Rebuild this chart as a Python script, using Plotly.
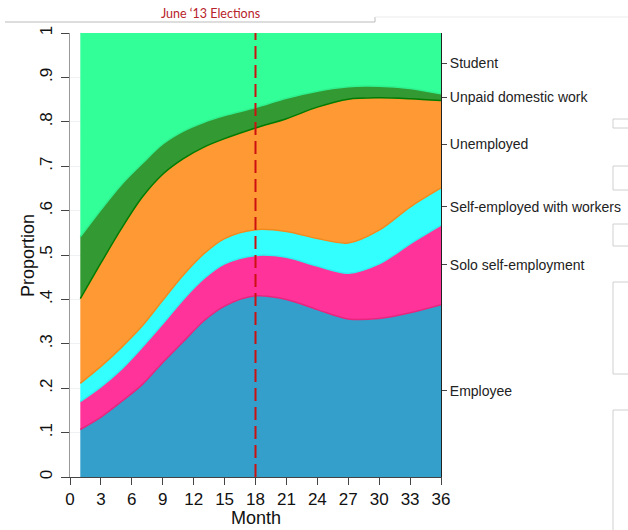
import plotly.graph_objects as go

months = [1, 3, 5, 7, 9, 11, 13, 15, 18, 21, 24, 27, 30, 33, 36]

categories = ["Employee", "Solo self-employment", "Self-employed with workers",
              "Unemployed", "Unpaid domestic work", "Student"]

employee = [0.107, 0.135, 0.170, 0.208, 0.258, 0.305, 0.352, 0.385, 0.408, 0.400, 0.377, 0.356, 0.357, 0.370, 0.388]
solo = [0.063, 0.068, 0.073, 0.084, 0.087, 0.095, 0.095, 0.095, 0.091, 0.095, 0.098, 0.103, 0.123, 0.155, 0.179]
with_workers = [0.041, 0.046, 0.049, 0.048, 0.053, 0.055, 0.056, 0.057, 0.058, 0.058, 0.062, 0.068, 0.076, 0.083, 0.084]
unemployed = [0.191, 0.233, 0.268, 0.290, 0.284, 0.262, 0.240, 0.225, 0.229, 0.254, 0.296, 0.324, 0.298, 0.244, 0.197]
unpaid = [0.139, 0.120, 0.099, 0.076, 0.068, 0.062, 0.056, 0.052, 0.046, 0.046, 0.036, 0.028, 0.026, 0.023, 0.015]
student = [0.459, 0.398, 0.341, 0.294, 0.250, 0.221, 0.201, 0.186, 0.168, 0.147, 0.131, 0.121, 0.120, 0.125, 0.137]

series = [employee, solo, with_workers, unemployed, unpaid, student]

fill_colors = ["#339FCA", "#FF3399", "#33FFFF", "#FF9933", "#339933", "#33FF99"]
line_colors = ["#E8267F", "#2EEFEF", "#F08A1E", "#007A00", "#2EF08C", "rgba(0,0,0,0)"]

x_ticks = list(range(0, 37, 3))
y_ticks = [i / 10 for i in range(11)]
y_ticktext = ["0", ".1", ".2", ".3", ".4", ".5", ".6", ".7", ".8", ".9", "1"]

election_month = 18

fig = go.Figure()
for name, vals, fc, lc in zip(categories, series, fill_colors, line_colors):
    fig.add_trace(go.Scatter(
        x=months, y=vals, name=name, mode="lines", stackgroup="one",
        line=dict(shape="spline", smoothing=0.9, width=1.5, color=lc),
        fillcolor=fc, hoverinfo="skip", showlegend=False,
    ))

# right-side labels at the midpoints of the final-month bands
mids = []
cum = 0.0
for vals in series:
    mids.append(cum + vals[-1] / 2)
    cum += vals[-1]

fig.add_trace(go.Scatter(x=[36], y=[0.5], yaxis="y2", mode="markers",
                         marker=dict(opacity=0), hoverinfo="skip", showlegend=False))

fig.add_shape(type="line", x0=election_month, x1=election_month, y0=0, y1=1.0,
              xref="x", yref="y", line=dict(color="#CC1111", width=2, dash="13px,6px"))

font = "Liberation Sans, Arial, sans-serif"

# screen pixel -> paper coords (plot area spans x 70..441, y 33..477)
def px_x(p):
    return (p - 70) / 371.0

def px_y(p):
    return (477 - p) / 444.0

fig.add_shape(type="line", xref="paper", yref="paper", x0=px_x(5), x1=px_x(375),
              y0=px_y(22), y1=px_y(22), line=dict(color="#BBBBBB", width=1))
fig.add_shape(type="line", xref="paper", yref="paper", x0=px_x(375), x1=px_x(375),
              y0=px_y(17), y1=px_y(22), line=dict(color="#BBBBBB", width=1))
fig.add_shape(type="line", xref="paper", yref="paper", x0=px_x(375), x1=px_x(640),
              y0=px_y(17), y1=px_y(17), line=dict(color="#EBEBEB", width=1))
for top, bot in [(119, 128), (166, 190), (224, 246), (282, 374), (410, 540)]:
    fig.add_shape(type="rect", xref="paper", yref="paper", x0=px_x(613), x1=px_x(650),
                  y0=px_y(bot), y1=px_y(top), line=dict(color="#D0D0D0", width=1))

fig.add_annotation(text="June \u201813 Elections", xref="paper", yref="paper",
                   x=px_x(210), y=px_y(13), xanchor="center", yanchor="middle",
                   showarrow=False,
                   font=dict(family="Lato, Open Sans, sans-serif", size=12.5, color="#B8232A"))
fig.add_annotation(text="Month", xref="paper", yref="paper",
                   x=px_x(256), y=px_y(518), xanchor="center", yanchor="middle",
                   showarrow=False, font=dict(family=font, size=18, color="#111111"))
fig.add_annotation(text="Proportion", xref="paper", yref="paper", textangle=-90,
                   x=px_x(28), y=px_y(256), xanchor="center", yanchor="middle",
                   showarrow=False, font=dict(family=font, size=18, color="#111111"))

fig.update_layout(
    width=628, height=530,
    margin=dict(l=70, r=187, t=33, b=53),
    paper_bgcolor="white", plot_bgcolor="white",
    font=dict(family=font, color="#111111"),
    xaxis=dict(range=[0, 36], tickvals=x_ticks, ticks="outside", ticklen=7,
               tickcolor="#444444", showline=True, linecolor="#444444", showgrid=False,
               zeroline=False, tickfont=dict(size=17, family=font), automargin=False),
    yaxis=dict(range=[0, 1], tickvals=y_ticks, ticktext=y_ticktext, ticks="outside",
               ticklen=8, tickcolor="#444444", tickangle=-90, showline=True,
               linecolor="#999999", showgrid=True, gridcolor="#EEF2F2", zeroline=False,
               tickfont=dict(size=17, family=font), automargin=False, ticklabelstandoff=2),
    yaxis2=dict(range=[0, 1], overlaying="y", side="right", tickvals=mids,
                ticktext=categories, ticks="outside", ticklen=5, tickcolor="#444444",
                showline=True, linecolor="#222222", showgrid=False, zeroline=False,
                automargin=False,
                tickfont=dict(size=14, family=font, color="#222222")),
)

fig.write_html("out.html", config={"displayModeBar": False},
               post_script="document.body.style.margin='0px';document.body.style.padding='0px';")
